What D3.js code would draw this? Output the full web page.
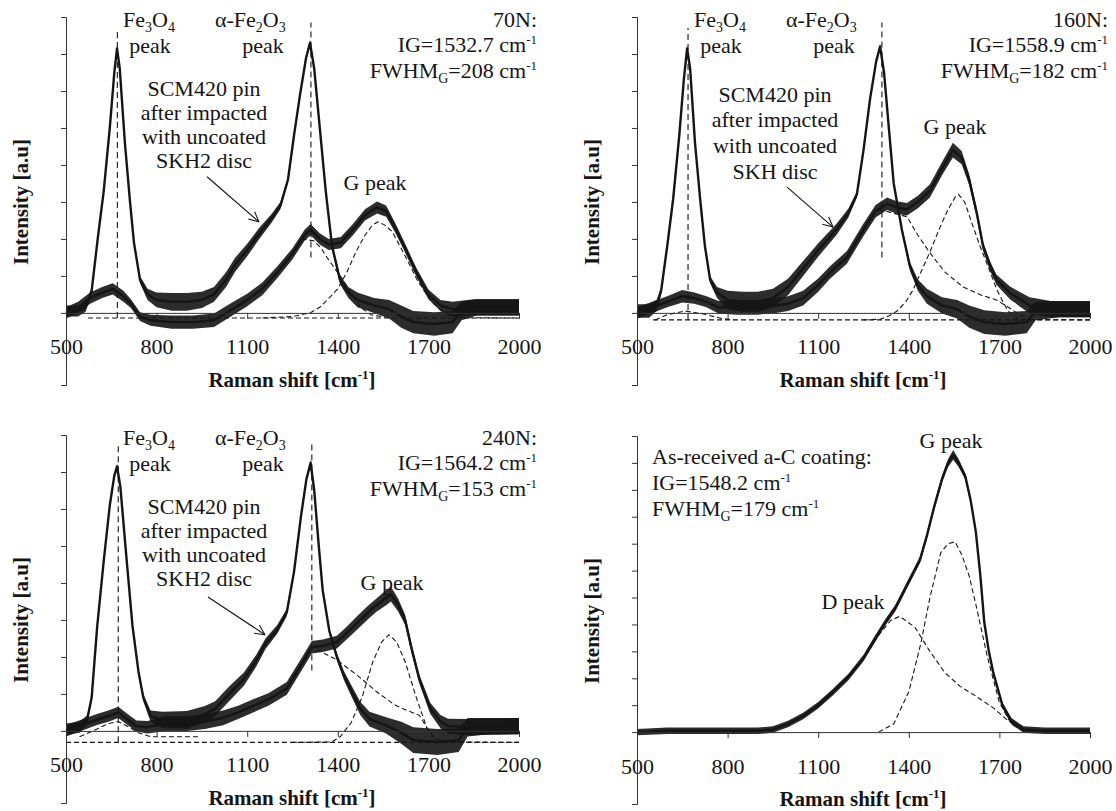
<!DOCTYPE html>
<html>
<head>
<meta charset="utf-8">
<script src="https://cdn.jsdelivr.net/npm/d3@7"></script>
<style>
body { margin: 0; background: #fff; }
svg { display: block; }
</style>
</head>
<body>
<svg id="chart" width="1116" height="811"></svg>
<script>
// Raman spectra: [shift cm-1, intensity (a.u.), noise half-width]
var xTicks = [500, 800, 1100, 1400, 1700, 2000];

// 70N
var p70Pin = [[500,0.05,0.15],[540,0.05,0.15],[565,0.15,0.12],[585,0.6,0.08],[605,2.0,0.06],[625,3.3,0.05],[645,5.0,0.05],[660,6.5,0.05],[669,7.15,0.06],[678,6.6,0.05],[695,4.6,0.05],[712,3.0,0.05],[725,1.9,0.06],[745,0.9,0.1],[770,0.5,0.15],[800,0.35,0.2],[850,0.3,0.24],[900,0.3,0.24],[950,0.35,0.22],[990,0.5,0.2],[1030,0.9,0.2],[1060,1.3,0.19],[1100,1.7,0.17],[1140,2.15,0.15],[1180,2.55,0.12],[1210,2.9,0.1],[1235,3.6,0.07],[1255,4.8,0.06],[1275,5.9,0.06],[1295,6.9,0.06],[1308,7.3,0.08],[1322,6.6,0.06],[1345,4.6,0.05],[1360,3.3,0.05],[1381,1.8,0.08],[1407,0.9,0.12],[1435,0.55,0.15],[1465,0.35,0.2],[1520,0.2,0.2],[1570,0.1,0.25],[1610,-0.1,0.3],[1650,-0.25,0.3],[1720,-0.3,0.32],[1780,-0.25,0.3],[1810,0.05,0.25],[1860,0.15,0.22],[1930,0.15,0.22],[2000,0.15,0.22]];
var p70Carbon = [[500,0.0,0.15],[540,0.15,0.15],[580,0.4,0.15],[620,0.55,0.15],[655,0.65,0.15],[690,0.45,0.15],[715,0.25,0.12],[745,-0.1,0.12],[780,-0.2,0.15],[850,-0.25,0.18],[920,-0.25,0.18],[990,-0.2,0.18],[1050,0.1,0.18],[1100,0.35,0.17],[1150,0.65,0.17],[1200,1.1,0.16],[1250,1.6,0.15],[1290,2.1,0.15],[1310,2.25,0.15],[1340,2.0,0.15],[1370,1.85,0.15],[1410,1.9,0.15],[1450,2.25,0.15],[1490,2.65,0.15],[1530,2.85,0.16],[1560,2.75,0.15],[1590,2.3,0.13],[1620,1.8,0.12],[1660,1.1,0.12],[1700,0.5,0.13],[1740,0.2,0.15],[1780,0.1,0.2],[1850,0.15,0.22],[2000,0.15,0.22]];
var p70FitG = [[1150,-0.14],[1250,-0.1],[1308,0.0],[1340,0.15],[1365,0.35],[1400,0.65],[1430,1.1],[1460,1.65],[1490,2.1],[1515,2.38],[1533,2.46],[1555,2.38],[1580,2.2],[1606,1.8],[1635,1.35],[1662,0.9],[1690,0.55],[1715,0.27],[1745,0.05],[1770,-0.08],[1820,-0.13],[2000,-0.14]];
var p70FitD = [[1280,2.0],[1320,1.95],[1345,1.75],[1360,1.55],[1390,1.2],[1417,0.9],[1445,0.5],[1475,0.15],[1510,-0.05],[1560,-0.12]];
var p70FitBase = [[573,-0.14],[2000,-0.14]];

// 160N
var p160Pin = [[500,0.05,0.18],[540,0.05,0.18],[565,0.2,0.15],[580,0.6,0.1],[600,1.8,0.07],[620,3.1,0.05],[640,4.8,0.05],[655,6.3,0.05],[666,7.15,0.07],[676,6.6,0.05],[692,4.6,0.05],[710,3.0,0.05],[725,1.8,0.07],[742,0.9,0.1],[765,0.55,0.15],[800,0.35,0.25],[850,0.3,0.27],[900,0.3,0.27],[950,0.4,0.25],[1000,0.7,0.22],[1050,1.2,0.2],[1100,1.7,0.18],[1160,2.25,0.15],[1200,2.7,0.12],[1228,3.2,0.08],[1250,4.4,0.06],[1272,5.8,0.06],[1292,6.8,0.06],[1305,7.2,0.08],[1318,6.5,0.06],[1335,4.9,0.05],[1350,3.5,0.06],[1377,2.25,0.08],[1404,1.25,0.12],[1430,0.75,0.15],[1460,0.45,0.2],[1510,0.2,0.22],[1560,0.1,0.25],[1600,-0.1,0.3],[1650,-0.25,0.32],[1720,-0.3,0.32],[1790,-0.25,0.3],[1820,0.05,0.25],[1900,0.1,0.22],[2000,0.1,0.22]];
var p160Carbon = [[500,0.0,0.15],[550,0.15,0.15],[600,0.3,0.15],[650,0.45,0.17],[690,0.4,0.15],[730,0.3,0.15],[770,0.15,0.17],[830,0.15,0.2],[900,0.15,0.2],[960,0.2,0.2],[1000,0.25,0.2],[1050,0.4,0.2],[1100,0.75,0.18],[1140,1.1,0.17],[1195,1.5,0.17],[1250,2.25,0.17],[1290,2.75,0.17],[1328,2.95,0.17],[1360,2.85,0.17],[1394,2.8,0.17],[1430,3.0,0.17],[1470,3.3,0.18],[1510,3.9,0.18],[1546,4.4,0.2],[1575,4.2,0.18],[1600,3.6,0.15],[1625,2.7,0.13],[1646,1.8,0.12],[1670,1.25,0.13],[1690,0.9,0.14],[1735,0.54,0.17],[1800,0.2,0.22],[1870,0.1,0.22],[2000,0.1,0.22]];
var p160FitG = [[1250,-0.19],[1305,-0.17],[1335,-0.08],[1361,0.05],[1390,0.3],[1414,0.62],[1440,1.1],[1470,1.65],[1500,2.25],[1530,2.8],[1555,3.15],[1565,3.2],[1585,3.0],[1610,2.4],[1636,1.8],[1665,1.2],[1692,0.62],[1712,0.3],[1725,0.1],[1745,-0.1],[1780,-0.18],[2000,-0.19]];
var p160FitD = [[1300,2.8],[1394,2.6],[1430,2.1],[1470,1.62],[1520,1.1],[1580,0.7],[1640,0.48],[1690,0.35],[1730,0.15],[1758,0.0],[1790,-0.15]];
var p160FitBase = [[553,-0.19],[2000,-0.19]];
var p160FitFe = [[560,-0.19],[600,-0.05],[660,0.05],[720,-0.03],[780,-0.15],[820,-0.19]];

// 240N
var p240Pin = [[500,0.05,0.15],[545,0.1,0.15],[570,0.3,0.12],[585,0.9,0.08],[603,2.8,0.05],[625,4.6,0.05],[645,6.1,0.05],[660,6.9,0.05],[669,7.15,0.07],[680,6.6,0.05],[700,4.7,0.05],[720,2.85,0.05],[740,1.6,0.08],[756,0.9,0.1],[780,0.4,0.15],[820,0.3,0.22],[900,0.3,0.24],[960,0.45,0.22],[994,0.6,0.2],[1040,1.0,0.2],[1089,1.4,0.18],[1130,1.9,0.16],[1160,2.35,0.14],[1200,2.75,0.12],[1231,3.2,0.1],[1255,4.3,0.06],[1278,5.8,0.06],[1296,6.8,0.06],[1310,7.25,0.08],[1322,6.5,0.06],[1337,5.0,0.05],[1350,3.8,0.06],[1372,2.7,0.08],[1397,2.0,0.1],[1420,1.5,0.12],[1444,1.1,0.15],[1475,0.6,0.18],[1505,0.32,0.2],[1560,0.15,0.22],[1610,-0.05,0.3],[1650,-0.25,0.35],[1730,-0.3,0.35],[1800,-0.25,0.32],[1830,0.1,0.25],[1900,0.13,0.22],[2000,0.13,0.22]];
var p240Carbon = [[500,0.0,0.15],[550,0.15,0.15],[600,0.3,0.15],[640,0.4,0.15],[673,0.5,0.15],[705,0.3,0.15],[733,0.13,0.15],[770,0.1,0.17],[830,0.2,0.2],[900,0.2,0.2],[960,0.25,0.2],[1020,0.35,0.2],[1070,0.5,0.18],[1112,0.65,0.18],[1170,0.85,0.17],[1231,1.15,0.17],[1280,1.8,0.17],[1314,2.26,0.17],[1350,2.3,0.17],[1397,2.4,0.17],[1430,2.65,0.17],[1468,2.95,0.18],[1500,3.2,0.18],[1528,3.4,0.18],[1560,3.6,0.2],[1576,3.7,0.2],[1600,3.4,0.17],[1623,3.0,0.14],[1645,2.2,0.12],[1670,1.4,0.12],[1706,0.61,0.15],[1740,0.25,0.18],[1765,0.13,0.2],[1830,0.1,0.22],[2000,0.13,0.22]];
var p240FitG = [[1250,-0.31],[1380,-0.3],[1408,-0.16],[1444,0.22],[1480,0.9],[1516,1.87],[1545,2.4],[1569,2.6],[1595,2.4],[1623,1.87],[1660,0.9],[1695,0.08],[1720,-0.2],[1760,-0.3],[2000,-0.31]];
var p240FitD = [[1330,2.2],[1397,1.92],[1468,1.48],[1530,1.05],[1587,0.71],[1630,0.55],[1670,0.42],[1695,0.08],[1720,-0.2]];
var p240FitBase = [[500,-0.31],[2000,-0.31]];
var p240FitFe = [[545,-0.16],[590,0.0],[640,0.2],[673,0.25],[705,0.12],[740,-0.05],[780,-0.16],[940,-0.16]];

// as-received a-C coating
var pCoat = [[500,0.0,0.12],[600,0.05,0.12],[700,0.05,0.12],[800,0.05,0.12],[900,0.05,0.12],[950,0.1,0.12],[1000,0.3,0.12],[1050,0.6,0.12],[1100,1.0,0.12],[1150,1.5,0.12],[1200,2.05,0.12],[1250,2.75,0.12],[1290,3.5,0.12],[1322,4.07,0.12],[1355,4.6,0.12],[1390,5.37,0.12],[1437,6.4,0.12],[1460,7.3,0.12],[1484,8.37,0.12],[1510,9.4,0.13],[1530,10.0,0.15],[1547,10.3,0.18],[1565,10.0,0.15],[1587,9.5,0.12],[1605,8.6,0.1],[1622,7.44,0.08],[1637,5.8,0.08],[1650,4.07,0.08],[1665,3.0,0.08],[1680,2.2,0.08],[1710,1.0,0.1],[1740,0.4,0.12],[1780,0.1,0.12],[1850,0.05,0.12],[2000,0.05,0.12]];
var pCoatFitG = [[1300,0.0],[1350,0.3],[1400,1.5],[1440,3.3],[1470,5.0],[1506,6.67],[1530,7.0],[1553,7.07],[1575,6.6],[1600,5.8],[1625,4.6],[1660,2.8],[1700,1.1],[1740,0.3],[1780,0.05],[1800,0.0]];
var pCoatFitD = [[1000,0.3],[1100,1.0],[1200,2.05],[1250,2.75],[1300,3.6],[1340,4.15],[1370,4.3],[1420,3.9],[1470,3.0],[1520,2.2],[1570,1.7],[1620,1.35],[1680,0.9],[1720,0.5],[1780,0.1],[1820,0.0]];

// peak marker positions (cm-1): [shift, from, to]
var fe3o4Marks = [[670,-0.14,7.7],[669,-0.19,7.7],[673,-0.31,7.7]];
var fe2o3Marks = [[1311,1.5,7.85],[1311,1.5,7.85],[1314,1.63,7.85]];

// arrows from the label to the pin spectrum: [x1,y1,x2,y2] in data units
var arrows = [[967,3.68,1139,2.46],[997,3.4,1149,2.32],[970,3.62,1159,2.6]];

var loads = ["70N:", "160N:", "240N:"];
var igText = ["IG=1532.7 cm", "IG=1558.9 cm", "IG=1564.2 cm"];
var fwhmText = ["=208 cm", "=182 cm", "=153 cm"];
var discText = ["SKH2 disc", "SKH disc", "SKH2 disc"];
var gLabel = [[309,173],[318,117],[326,155]];
var pinLines = [[79,103,127,151],[85,110,136,162],[79,103,127,151]];

var svg = d3.select("#chart");
var ink = "#151515";
var serif = "'Liberation Serif'";

var panels = [
  {ox:66, oy:17, ymin:-1.95, ymax:8, pin:p70Pin, carbon:p70Carbon, fits:[p70FitBase,p70FitG,p70FitD]},
  {ox:637, oy:17, ymin:-1.95, ymax:8, pin:p160Pin, carbon:p160Carbon, fits:[p160FitBase,p160FitFe,p160FitG,p160FitD]},
  {ox:66, oy:435, ymin:-1.95, ymax:8, pin:p240Pin, carbon:p240Carbon, fits:[p240FitBase,p240FitFe,p240FitG,p240FitD]},
  {ox:637, oy:436, ymin:-2.67, ymax:11, pin:null, carbon:pCoat, fits:[pCoatFitG,pCoatFitD]}
];

// text with sub/superscripts: parts = [[text, "sub"|"sup"|undefined], ...]
function rich(g, x, y, parts, anchor, size, weight) {
  var t = g.append("text").attr("x", x).attr("y", y)
    .style("font-family", serif).style("font-size", (size || 22) + "px")
    .style("font-weight", weight || "normal")
    .attr("text-anchor", anchor || "start").attr("fill", ink);
  var shift = 0;
  parts.forEach(function(p) {
    var dy = 0, sz = null;
    if (p[1] === "sub") { dy = 5; sz = 14; }
    if (p[1] === "sup") { dy = -8; sz = 13; }
    var ts = t.append("tspan").attr("dy", dy - shift).text(p[0]);
    if (sz) ts.style("font-size", sz + "px");
    shift = dy;
  });
  return t;
}

panels.forEach(function(p, i) {
  var g = svg.append("g");
  var x = d3.scaleLinear().domain([500, 2000]).range([p.ox, p.ox + 453]);
  var y = d3.scaleLinear().domain([p.ymin, p.ymax]).range([p.oy + 368, p.oy]);

  var line = d3.line().x(function(d){ return x(d[0]); }).y(function(d){ return y(d[1]); });
  var band = d3.area().x(function(d){ return x(d[0]); })
    .y0(function(d){ return y(d[1] - d[2]); })
    .y1(function(d){ return y(d[1] + d[2]); });

  // fitted components
  p.fits.forEach(function(f) {
    g.append("path").attr("d", line(f)).attr("fill", "none")
      .attr("stroke", ink).attr("stroke-width", 1.1).attr("stroke-dasharray", "5,3");
  });

  // peak markers
  if (i < 3) {
    var m = fe3o4Marks[i], n = fe2o3Marks[i];
    [m, n].forEach(function(v) {
      g.append("line").attr("x1", x(v[0])).attr("x2", x(v[0]))
        .attr("y1", y(v[1])).attr("y2", y(v[2]))
        .attr("stroke", ink).attr("stroke-width", 1.1).attr("stroke-dasharray", "6,4");
    });
  }

  // spectra
  [p.carbon, p.pin].forEach(function(s) {
    if (!s) return;
    g.append("path").attr("d", band(s)).attr("fill", ink).attr("fill-opacity", 0.9);
    g.append("path").attr("d", line(s)).attr("fill", "none")
      .attr("stroke", ink).attr("stroke-width", 2.4).attr("stroke-linejoin", "round");
  });

  // axes
  var ya = g.append("g").attr("transform", "translate(" + p.ox + ",0)")
    .call(d3.axisLeft(y).tickValues(d3.range(0, p.ymax + 1)).tickSize(5).tickSizeOuter(5).tickFormat(""));
  var xa = g.append("g").attr("transform", "translate(0," + y(0) + ")")
    .call(d3.axisBottom(x).tickValues(xTicks).tickSize(6).tickSizeOuter(0).tickPadding(20).tickFormat(d3.format("d")));
  [ya, xa].forEach(function(a) {
    a.attr("font-family", null).attr("font-size", null);
    a.selectAll("path, line").attr("stroke", "#333").attr("stroke-width", 1);
    a.selectAll("text").attr("fill", ink).style("font-family", serif).style("font-size", "22px");
  });

  g.append("text").attr("transform", "translate(" + (p.ox - 38) + "," + (p.oy + 185) + ") rotate(-90)")
    .style("font-family", serif).style("font-size", "21px").style("font-weight", "bold")
    .attr("text-anchor", "middle").attr("fill", ink)
    .text("Intensity [a.u]");
  rich(g, p.ox + 226, p.oy + 370, [["Raman shift [cm"], ["-1", "sup"], ["]"]], "middle", 21, "bold");

  if (i < 3) {
    rich(g, p.ox + 57, p.oy + 10, [["Fe"], ["3", "sub"], ["O"], ["4", "sub"]]);
    rich(g, p.ox + 84, p.oy + 36, [["peak"]], "middle");
    rich(g, p.ox + 149, p.oy + 10, [["\u03b1-Fe"], ["2", "sub"], ["O"], ["3", "sub"]]);
    rich(g, p.ox + 197, p.oy + 36, [["peak"]], "middle");
    var L = pinLines[i];
    rich(g, p.ox + 138, p.oy + L[0], [["SCM420 pin"]], "middle");
    rich(g, p.ox + 138, p.oy + L[1], [["after impacted"]], "middle");
    rich(g, p.ox + 138, p.oy + L[2], [["with uncoated"]], "middle");
    rich(g, p.ox + 138, p.oy + L[3], [[discText[i]]], "middle");
    rich(g, p.ox + 471, p.oy + 10, [[loads[i]]], "end");
    rich(g, p.ox + 471, p.oy + 35, [[igText[i]], ["-1", "sup"]], "end");
    rich(g, p.ox + 471, p.oy + 61, [["FWHM"], ["G", "sub"], [fwhmText[i]], ["-1", "sup"]], "end");
    rich(g, p.ox + gLabel[i][0], p.oy + gLabel[i][1], [["G peak"]], "middle");

    var a = arrows[i];
    var x1 = x(a[0]), y1 = y(a[1]), x2 = x(a[2]), y2 = y(a[3]);
    var ang = Math.atan2(y2 - y1, x2 - x1);
    g.append("line").attr("x1", x1).attr("y1", y1).attr("x2", x2).attr("y2", y2)
      .attr("stroke", ink).attr("stroke-width", 1.1);
    [0.45, -0.45].forEach(function(da) {
      g.append("line").attr("x1", x2).attr("y1", y2)
        .attr("x2", x2 - 11 * Math.cos(ang + da)).attr("y2", y2 - 11 * Math.sin(ang + da))
        .attr("stroke", ink).attr("stroke-width", 1.1);
    });
  } else {
    rich(g, p.ox + 314, p.oy + 12, [["G peak"]], "middle");
    rich(g, p.ox + 15, p.oy + 28, [["As-received a-C coating:"]]);
    rich(g, p.ox + 15, p.oy + 54, [["IG=1548.2 cm"], ["-1", "sup"]]);
    rich(g, p.ox + 15, p.oy + 80, [["FWHM"], ["G", "sub"], ["=179 cm"], ["-1", "sup"]]);
    rich(g, p.ox + 216, p.oy + 173, [["D peak"]], "middle");
  }
});
</script>
</body>
</html>
